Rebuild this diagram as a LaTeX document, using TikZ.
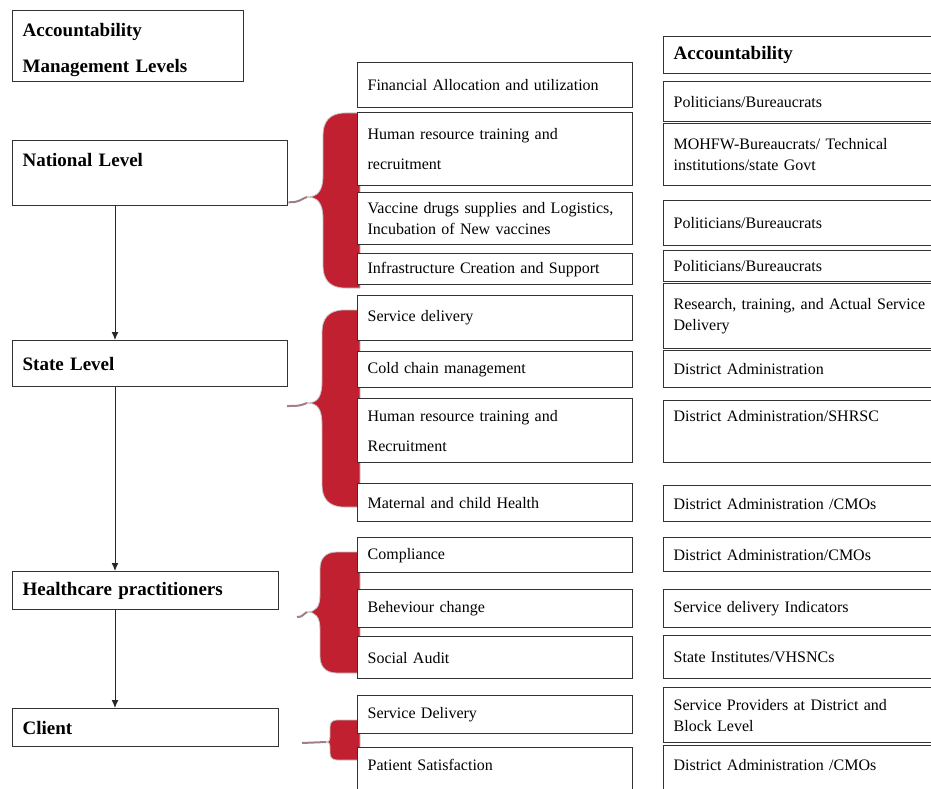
\documentclass[tikz,border=0pt]{standalone}
\usepackage{xcolor}
\usepackage{fontspec}
\setmainfont{Liberation Serif}
\usepackage{tikz}
\usetikzlibrary{arrows.meta,calc}

\definecolor{bracered}{RGB}{192,32,48}
\definecolor{tailgray}{RGB}{160,128,134}

\tikzset{
  box/.style={draw=black!80, line width=1.3pt, fill=white, rectangle, anchor=north west,
    inner xsep=10pt, inner ysep=2pt, align=left, font=\fontsize{16}{21}\selectfont},
  level/.style={box, font=\fontsize{19}{23}\selectfont\bfseries},
  midbox/.style={box, minimum width=275pt, text width=255pt},
  accbox/.style={box, minimum width=282pt, text width=262pt},
  flow/.style={-{Latex[length=8pt,width=7pt]}, line width=1pt, draw=black!85},
  bracefill/.style={fill=bracered, draw=gray!45, line width=0.8pt},
  tail/.style={draw=tailgray, line width=2pt},
}

% top, bottom, tip y, body x, tip x, corner
\newcommand{\levelbrace}[6]{%
  \path[bracefill] (360,#1) -- (#4+#6,#1)
    .. controls (#4+0.3*#6,#1) and (#4,#1+0.4*#6) .. (#4,#1+#6)
    -- (#4,#3-#6)
    .. controls (#4,#3-0.3*#6) and (#5+0.5*#6,#3) .. (#5,#3)
    .. controls (#5+0.5*#6,#3) and (#4,#3+0.3*#6) .. (#4,#3+#6)
    -- (#4,#2-#6)
    .. controls (#4,#2-0.4*#6) and (#4+0.3*#6,#2) .. (#4+#6,#2)
    -- (360,#2) -- cycle;
}

\begin{document}
\begin{tikzpicture}[x=1pt,y=-1pt]
        \fill[white] (0,0) rectangle (931,789);
        \useasboundingbox (0,0) rectangle (931,789);
        \clip (0,0) rectangle (931,789);

        % Braces behind the middle column
        \levelbrace{113}{288}{197}{323}{307}{22}
        \levelbrace{310}{507}{403}{322}{307}{22}
        \levelbrace{552}{673}{612}{320}{307}{17}
        \levelbrace{720}{760}{742}{330}{326}{7}
        \coordinate (tipA) at (307,197);
        \coordinate (tipB) at (307,403);
        \coordinate (tipC) at (307,612);
        \coordinate (tipD) at (326,742);

        % Levels column
        \node[level, minimum width=231pt, text width=211pt, minimum height=71pt,
          text height=14pt, text depth=34pt] (title) at (12,10)
          {Accountability\\[13pt]Management Levels};
        \node[level, minimum width=275pt, text width=255pt, minimum height=65pt,
          text height=14pt, text depth=27pt] (natl) at (12,140) {National Level};
        \node[level, minimum width=275pt, text width=255pt, minimum height=46pt] (state) at (12,340) {State Level};
        \node[level, minimum width=266pt, text width=246pt, minimum height=38pt] (hcp) at (12,571) {Healthcare practitioners};
        \node[level, minimum width=266pt, text width=246pt, minimum height=38pt] (client) at (12,708) {Client};

        % Arrows between levels
        \coordinate (spine) at (115,0);
        \draw[flow] (natl.south -| spine) -- (state.north -| spine);
        \draw[flow] (state.south -| spine) -- (hcp.north -| spine);
        \draw[flow] (hcp.south -| spine) -- (client.north -| spine);

        % Functions column
        \node[midbox, minimum height=45pt] (fin) at (357,62) {Financial Allocation and utilization};
        \node[midbox, minimum height=73pt] (hrA) at (357,112) {Human resource training and\\[9pt]recruitment};
        \node[midbox, minimum height=52pt] (vac) at (357,192) {Vaccine drugs supplies and Logistics,\\Incubation of New vaccines};
        \node[midbox, minimum height=31pt] (infra) at (357,253) {Infrastructure Creation and Support};
        \node[midbox, minimum height=45pt] (servA) at (357,295) {Service delivery};
        \node[midbox, minimum height=36pt] (cold) at (357,351) {Cold chain management};
        \node[midbox, minimum height=64pt] (hrB) at (357,398) {Human resource training and\\[9pt]Recruitment};
        \node[midbox, minimum height=38pt] (mch) at (357,483) {Maternal and child Health};
        \node[midbox, minimum height=35pt] (comp) at (357,537) {Compliance};
        \node[midbox, minimum height=38pt] (behav) at (357,589) {Beheviour change};
        \node[midbox, minimum height=42pt] (audit) at (357,636) {Social Audit};
        \node[midbox, minimum height=38pt] (servB) at (357,695) {Service Delivery};
        \node[midbox, minimum height=44pt, text height=11pt, text depth=10pt] (patient) at (357,747) {Patient Satisfaction};

        % Accountability column
        \node[accbox, minimum height=37pt, font=\fontsize{19}{23}\selectfont\bfseries] (acc) at (663,36) {Accountability};
        \node[accbox, minimum height=40pt] (accA) at (663,81) {Politicians/Bureaucrats};
        \node[accbox, minimum height=62pt] (accB) at (663,123) {MOHFW-Bureaucrats/ Technical\\institutions/state Govt};
        \node[accbox, minimum height=45pt] (accC) at (663,200) {Politicians/Bureaucrats};
        \node[accbox, minimum height=31pt] (accD) at (663,250) {Politicians/Bureaucrats};
        \node[accbox, minimum height=65pt] (accE) at (663,283) {Research, training, and Actual Service\\Delivery};
        \node[accbox, minimum height=37pt] (accF) at (663,350) {District Administration};
        \node[accbox, minimum height=62pt, text height=11pt, text depth=31pt] (accG) at (663,400) {District Administration/SHRSC};
        \node[accbox, minimum height=36pt] (accH) at (663,485) {District Administration /CMOs};
        \node[accbox, minimum height=34pt] (accI) at (663,537) {District Administration/CMOs};
        \node[accbox, minimum height=38pt] (accJ) at (663,589) {Service delivery Indicators};
        \node[accbox, minimum height=43pt] (accK) at (663,635) {State Institutes/VHSNCs};
        \node[accbox, minimum height=55pt] (accL) at (663,687) {Service Providers at District and\\Block Level};
        \node[accbox, minimum height=46pt, text height=11pt, text depth=8pt] (accM) at (663,745) {District Administration /CMOs};

        % Brace tails
        \draw[tail] ([yshift=4pt]natl.south east) .. controls +(12,0) and +(-8,3) .. (tipA);
        \coordinate (tailB) at (287,406);
        \draw[tail] (tailB) .. controls +(12,0) and +(-8,3) .. (tipB);
        \coordinate (tailC) at (297,617);
        \draw[tail] (tailC) .. controls +(6,0) and +(-5,3) .. (tipC);
        \coordinate (tailD) at (302,743);
        \draw[tail] (tailD) -- (tipD);
      \end{tikzpicture}
\end{document}
